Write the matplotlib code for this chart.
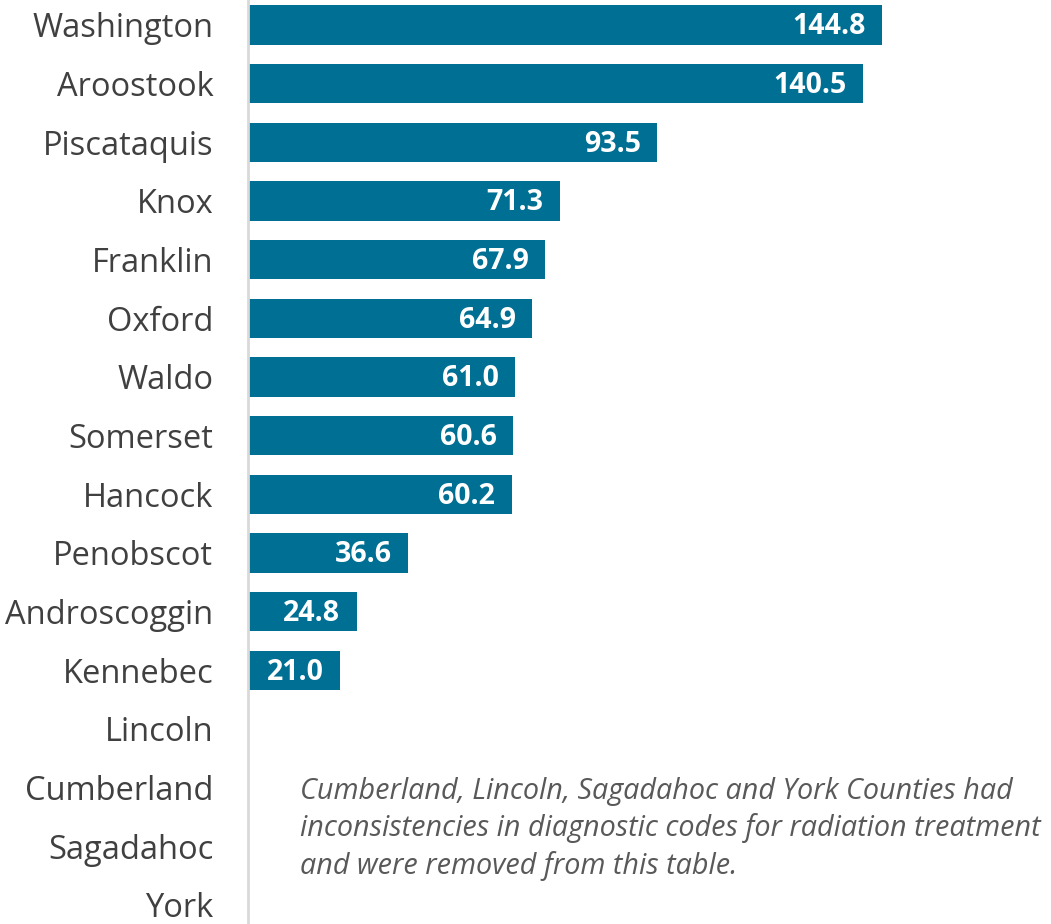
import matplotlib
matplotlib.use('Agg')
import matplotlib.pyplot as plt

# Data
counties = ['Washington', 'Aroostook', 'Piscataquis', 'Knox', 'Franklin', 'Oxford',
            'Waldo', 'Somerset', 'Hancock', 'Penobscot', 'Androscoggin', 'Kennebec',
            'Lincoln', 'Cumberland', 'Sagadahoc', 'York']
rates = [144.8, 140.5, 93.5, 71.3, 67.9, 64.9, 61.0, 60.6, 60.2, 36.6, 24.8, 21.0]
note = ('Cumberland, Lincoln, Sagadahoc and York Counties had\n'
        'inconsistencies in diagnostic codes for radiation treatment\n'
        'and were removed from this table.')

bar_color = '#006F94'
plt.rcParams['font.family'] = ['Open Sans', 'DejaVu Sans']

fig = plt.figure(figsize=(10.51, 9.24), dpi=100)
ax = fig.add_axes((248 / 1051, 0, 803 / 1051, 1))

ypos = list(range(len(rates)))
ax.barh(ypos, rates, height=0.67, color=bar_color)

for y, v in zip(ypos, rates):
    ax.text(v - 3.8, y + 0.03, f'{v:.1f}', ha='right', va='center', color='white',
            fontsize=20.5, fontweight='bold')

ax.set_yticks(range(len(counties)))
ax.set_yticklabels(counties, fontsize=23.5, color='#404040')
ax.tick_params(axis='y', length=0, pad=25)
ax.set_xticks([])

ax.set_xlim(0, 183.4)
ax.set_ylim(15.324, -0.426)

for s in ['top', 'right', 'bottom']:
    ax.spines[s].set_visible(False)
ax.spines['left'].set_color('#D9D9D9')
ax.spines['left'].set_linewidth(2)

ax.text(11.8, 12.82, note, ha='left', va='top', fontsize=20.7, style='italic',
        color='#595959', linespacing=1.32)

fig.savefig('out.png', dpi=100)
